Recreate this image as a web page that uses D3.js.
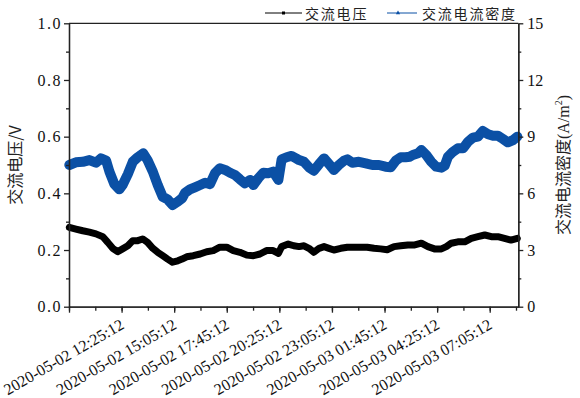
<!DOCTYPE html>
<html>
<head>
<meta charset="utf-8">
<script src="https://cdn.jsdelivr.net/npm/d3@7"></script>
<style>
body { margin: 0; background: #fff; }
svg { display: block; }
.cjk { font-family: "Noto Sans CJK SC", sans-serif; fill: #222; }
</style>
</head>
<body>
<svg width="580" height="398"></svg>
<script>
// time is minutes after the start stamp
const startTime = "2020-05-02 09:45:12";
const endMinute = 1367;
const xTickMinutes = [160, 320, 480, 640, 800, 960, 1120, 1280];
const leftTicks = [0, 0.2, 0.4, 0.6, 0.8, 1.0];
const rightTicks = [0, 3, 6, 9, 12, 15];
const seriesNames = ["交流电压", "交流电流密度"];

const voltMinutes = [1, 21, 42, 62, 82, 103, 118, 133, 148, 163, 179, 194, 209, 224, 239, 255, 270, 285, 300, 315, 331, 344,
  358, 378, 399, 419, 439, 459, 480, 500, 520, 541, 561, 581, 601, 621, 637, 647, 667, 684, 700, 715, 730, 745, 761, 776,
  791, 806, 827, 847, 867, 887, 907, 928, 948, 968, 989, 1009, 1031, 1052, 1072, 1092, 1112, 1133, 1148, 1163, 1183, 1204,
  1224, 1244, 1265, 1285, 1305, 1325, 1345, 1364];
const voltValues = [0.280, 0.274, 0.268, 0.263, 0.257, 0.247, 0.227, 0.206, 0.194, 0.204, 0.215, 0.233, 0.233, 0.239, 0.227,
  0.206, 0.192, 0.180, 0.168, 0.157, 0.162, 0.168, 0.176, 0.180, 0.186, 0.194, 0.198, 0.210, 0.210, 0.198, 0.192, 0.182,
  0.180, 0.186, 0.198, 0.198, 0.188, 0.212, 0.221, 0.215, 0.212, 0.215, 0.206, 0.192, 0.206, 0.212, 0.206, 0.200, 0.206,
  0.210, 0.210, 0.210, 0.210, 0.206, 0.204, 0.201, 0.212, 0.215, 0.218, 0.218, 0.224, 0.212, 0.204, 0.204, 0.212, 0.224,
  0.229, 0.229, 0.241, 0.247, 0.253, 0.247, 0.247, 0.241, 0.235, 0.241];

const densMinutes = [1, 21, 42, 62, 82, 97, 113, 123, 138, 153, 163, 179, 194, 209, 226, 239, 255, 270, 285, 300, 315, 331,
  344, 353, 368, 383, 399, 414, 429, 444, 459, 475, 490, 505, 520, 535, 551, 561, 576, 591, 606, 621, 637, 647, 662, 677,
  691, 700, 715, 730, 745, 761, 776, 791, 806, 821, 837, 847, 862, 882, 903, 923, 943, 963, 979, 994, 1009, 1024, 1037,
  1046, 1062, 1072, 1087, 1102, 1117, 1133, 1143, 1153, 1168, 1183, 1199, 1214, 1229, 1244, 1259, 1275, 1290, 1305, 1320,
  1335, 1351, 1364];
const densValues = [7.50, 7.64, 7.67, 7.76, 7.62, 7.85, 7.73, 7.15, 6.49, 6.21, 6.44, 7.02, 7.67, 7.91, 8.12, 7.76, 7.15,
  6.44, 5.82, 5.68, 5.38, 5.56, 5.74, 6.03, 6.21, 6.32, 6.44, 6.56, 6.49, 7.06, 7.33, 7.24, 7.09, 6.97, 6.74, 6.53, 6.71,
  6.44, 6.80, 7.09, 7.06, 7.15, 6.71, 7.80, 7.91, 7.98, 7.85, 7.76, 7.67, 7.38, 7.20, 7.55, 7.85, 7.55, 7.24, 7.50, 7.73,
  7.80, 7.62, 7.67, 7.59, 7.50, 7.50, 7.41, 7.38, 7.73, 7.91, 7.91, 7.94, 8.03, 8.12, 8.29, 8.03, 7.67, 7.41, 7.36, 7.46,
  7.94, 8.20, 8.38, 8.38, 8.73, 8.95, 9.00, 9.30, 9.13, 9.05, 9.05, 8.88, 8.70, 8.82, 9.00];

const svg = d3.select("svg");
const plotLeft = 69, plotRight = 518.3, plotTop = 23.3, plotBottom = 306.7;
const axisColor = "#222";
const serif = "Liberation Serif, Times New Roman, serif";

const t0 = d3.timeParse("%Y-%m-%d %H:%M:%S")(startTime);
const toDate = m => d3.timeMinute.offset(t0, m);

const x = d3.scaleTime().domain([t0, toDate(endMinute)]).range([plotLeft, plotRight]);
const yL = d3.scaleLinear().domain([0, 1]).range([plotBottom, plotTop]);
const yR = d3.scaleLinear().domain([0, 15]).range([plotBottom, plotTop]);

// series
const voltLine = d3.line()
  .x((d, i) => x(toDate(voltMinutes[i])))
  .y(d => yL(d));
const densLine = d3.line()
  .x((d, i) => x(toDate(densMinutes[i])))
  .y(d => yR(d));

svg.append("path")
  .datum(densValues)
  .attr("d", densLine)
  .attr("fill", "none")
  .attr("stroke", "#0b50a5")
  .attr("stroke-width", 10)
  .attr("stroke-linejoin", "round")
  .attr("stroke-linecap", "round");

svg.append("path")
  .datum(voltValues)
  .attr("d", voltLine)
  .attr("fill", "none")
  .attr("stroke", "#000")
  .attr("stroke-width", 7)
  .attr("stroke-linejoin", "round")
  .attr("stroke-linecap", "round");

// axes
function styleAxis(g) {
  g.selectAll("path, line").attr("stroke", axisColor).attr("stroke-width", 1.3);
  g.attr("font-family", serif).attr("font-size", 16);
  g.selectAll("text").attr("fill", "#111");
}

let minorX = [];
for (let m = 0; m <= endMinute; m += 80) minorX.push(m);

svg.append("g")
  .attr("transform", `translate(0,${plotBottom})`)
  .call(d3.axisBottom(x).tickValues(minorX.map(toDate)).tickSize(4).tickSizeOuter(0).tickFormat(""))
  .call(styleAxis);

const xAxis = svg.append("g")
  .attr("transform", `translate(0,${plotBottom})`)
  .call(d3.axisBottom(x)
    .tickValues([0].concat(xTickMinutes).map(toDate))
    .tickSize(6)
    .tickSizeOuter(0)
    .tickFormat((d, i) => i === 0 ? "" : d3.timeFormat("%Y-%m-%d %H:%M:%S")(d)))
  .call(styleAxis);
xAxis.selectAll("text")
  .attr("text-anchor", "end")
  .attr("dy", 0)
  .attr("y", 0)
  .attr("transform", "translate(3,21) rotate(-30)");

svg.append("g")
  .attr("transform", `translate(${plotLeft},0)`)
  .call(d3.axisLeft(yL).tickValues([0.1, 0.3, 0.5, 0.7, 0.9]).tickSize(3).tickSizeOuter(0).tickFormat(""))
  .call(styleAxis);
svg.append("g")
  .attr("transform", `translate(${plotLeft},0)`)
  .call(d3.axisLeft(yL).tickValues(leftTicks).tickSize(5).tickSizeOuter(0).tickPadding(2).tickFormat(d3.format(".1f")))
  .call(styleAxis)
  .selectAll("text").attr("letter-spacing", "1.5px");

svg.append("g")
  .attr("transform", `translate(${plotRight},0)`)
  .call(d3.axisRight(yR).tickValues([1.5, 4.5, 7.5, 10.5, 13.5]).tickSize(3).tickSizeOuter(0).tickFormat(""))
  .call(styleAxis);
svg.append("g")
  .attr("transform", `translate(${plotRight},0)`)
  .call(d3.axisRight(yR).tickValues(rightTicks).tickSize(5).tickSizeOuter(0).tickPadding(4).tickFormat(d3.format("d")))
  .call(styleAxis);

svg.append("line")
  .attr("x1", plotLeft).attr("x2", plotRight)
  .attr("y1", plotTop).attr("y2", plotTop)
  .attr("stroke", axisColor).attr("stroke-width", 1.3);

// axis titles
svg.append("text")
  .attr("class", "cjk")
  .attr("transform", `translate(21,${(plotTop + plotBottom) / 2}) rotate(-90)`)
  .attr("text-anchor", "middle")
  .attr("font-size", 16)
  .text("交流电压/V");

const rt = svg.append("text")
  .attr("class", "cjk")
  .attr("transform", `translate(569,${(plotTop + plotBottom) / 2}) rotate(-90)`)
  .attr("text-anchor", "middle")
  .attr("font-size", 16);
rt.append("tspan").text("交流电流密度");
rt.append("tspan").attr("font-family", serif).text("(A/m");
rt.append("tspan").attr("font-family", serif).attr("font-size", 10).attr("dy", -7).text("2");
rt.append("tspan").attr("font-family", serif).attr("dy", 7).text(")");

// legend
const legend = [
  { name: seriesNames[0], color: "#000", x: 265, tx: 305 },
  { name: seriesNames[1], color: "#0b50a5", x: 387, tx: 422 }
];
legend.forEach((d, i) => {
  const w = i === 0 ? 37 : 30;
  svg.append("line")
    .attr("x1", d.x).attr("x2", d.x + w)
    .attr("y1", 13).attr("y2", 13)
    .attr("stroke", d.color).attr("stroke-width", 1);
  if (i === 0) {
    svg.append("rect").attr("x", d.x + w / 2 - 1.5).attr("y", 11.5).attr("width", 3).attr("height", 3).attr("fill", d.color);
  } else {
    svg.append("path")
      .attr("d", d3.symbol(d3.symbolTriangle, 8)())
      .attr("transform", `translate(${d.x + 11},13)`)
      .attr("fill", d.color);
  }
  svg.append("text")
    .attr("class", "cjk")
    .attr("x", d.tx).attr("y", 19)
    .attr("font-size", 14)
    .attr("letter-spacing", "1.8px")
    .text(d.name);
});
</script>
</body>
</html>
